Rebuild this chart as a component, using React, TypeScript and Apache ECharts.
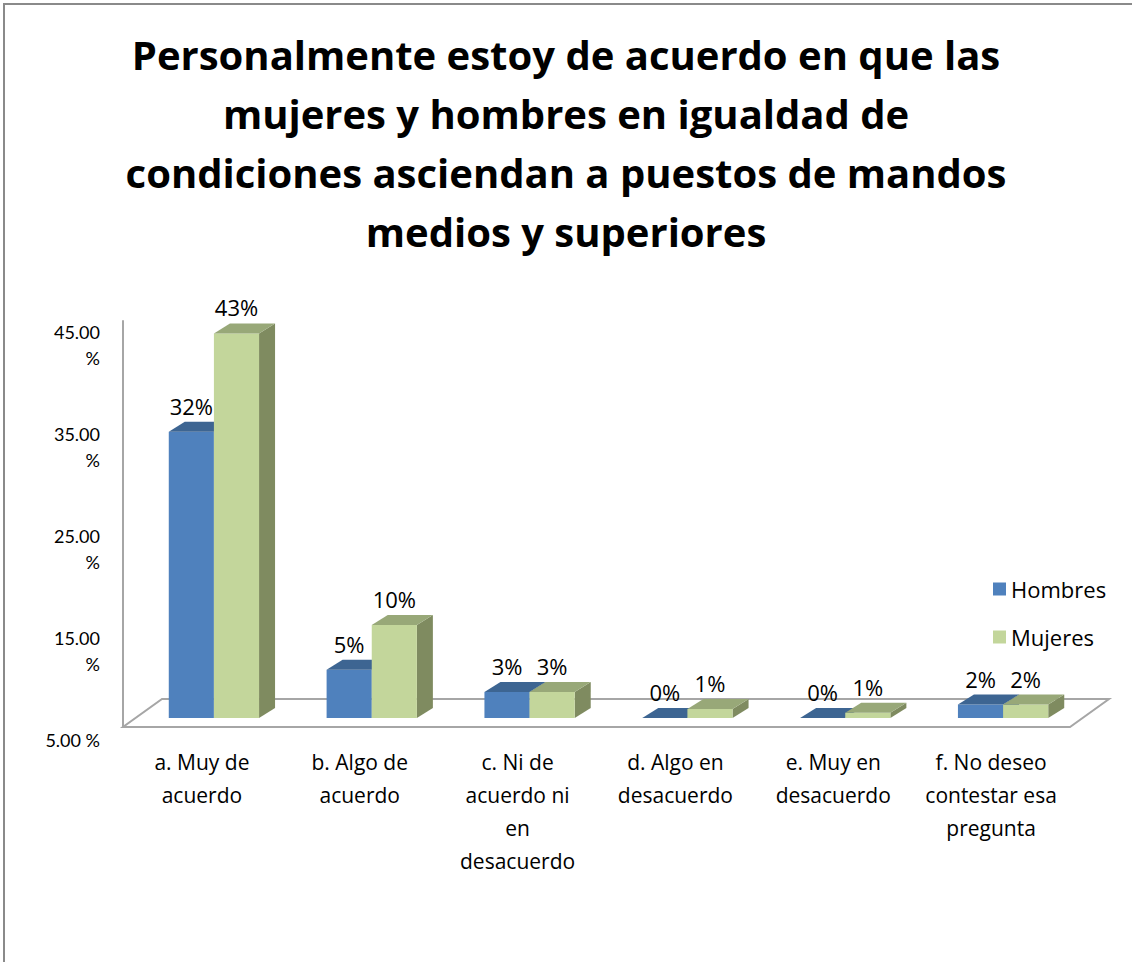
import React, { useEffect, useRef } from "react";
import * as echarts from "echarts";

const titleLines = [
  "Personalmente estoy de acuerdo en que las",
  "mujeres y hombres en igualdad de",
  "condiciones asciendan a puestos de mandos",
  "medios y superiores",
];
const categories = [
  "a. Muy de\nacuerdo",
  "b. Algo de\nacuerdo",
  "c. Ni de\nacuerdo ni\nen\ndesacuerdo",
  "d. Algo en\ndesacuerdo",
  "e. Muy en\ndesacuerdo",
  "f. No deseo\ncontestar esa\npregunta",
];
const seriesNames = ["Hombres", "Mujeres"];
const hombres = [32.0, 5.4, 2.9, 0.0, 0.0, 1.5];
const mujeres = [43.0, 10.4, 2.9, 1.0, 0.6, 1.5];
const tickMin = 5;
const tickMax = 45;
const tickStep = 10;

const palette = [
  { front: "#4F81BD", top: "#3D6592", side: "#385D8A" },
  { front: "#C3D69B", top: "#98A878", side: "#7F8B60" },
];

const FONT = "Open Sans";
const AXIS_FONT = "Lato";

function makeBarRender(s: number) {
  return (params: any, api: any) => {
    const idx = api.value(0);
    const v = api.value(1);
    const base = api.coord([idx, 0]);
    const top = api.coord([idx, v]);
    const band = api.size([1, 0])[0];
    const bw = band * 0.286;
    const shiftX = band * 0.076;
    const shiftY = -9;
    const dx = 16;
    const dy = -10;
    const x0 = base[0] + shiftX + (s === 0 ? -bw : 0);
    const x1 = x0 + bw;
    const yb = base[1] + shiftY;
    const yt = top[1] + shiftY;
    const c = palette[s];
    return {
      type: "group",
      children: [
        {
          type: "polygon",
          shape: { points: [[x1, yt], [x1 + dx, yt + dy], [x1 + dx, yb + dy], [x1, yb]] },
          style: { fill: c.side },
        },
        {
          type: "rect",
          shape: { x: x0, y: yt, width: bw, height: yb - yt },
          style: { fill: c.front },
        },
        {
          type: "polygon",
          shape: { points: [[x0, yt], [x1, yt], [x1 + dx, yt + dy], [x0 + dx, yt + dy]] },
          style: { fill: c.top },
        },
        {
          type: "text",
          z2: 10,
          style: {
            text: Math.round(v) + "%",
            x: x0 + bw / 2,
            y: yt - 26,
            align: "center",
            verticalAlign: "middle",
            fontSize: 22,
            fontFamily: FONT,
            fill: "#000",
          },
        },
      ],
    };
  };
}

export default function App() {
  const ref = useRef<HTMLDivElement>(null);
  useEffect(() => {
    document.body.style.margin = "0";
    const chart = echarts.init(ref.current!, null, { renderer: "svg" });
    const option: any = {
      animation: false,
      backgroundColor: "#fff",
      textStyle: { fontFamily: FONT },
      title: {
        text: titleLines.join("\n"),
        left: "center",
        top: 20,
        textStyle: { fontSize: 40, fontWeight: "bold", lineHeight: 59, color: "#000", fontFamily: FONT },
      },
      legend: {
        data: seriesNames,
        orient: "vertical",
        left: 988,
        top: 573,
        itemWidth: 13,
        itemHeight: 13,
        itemGap: 26,
        icon: "rect",
        textStyle: { fontSize: 22, lineHeight: 22, color: "#000", fontFamily: FONT },
      },
      graphic: [
        {
          type: "rect",
          shape: { x: 4, y: 4, width: 1300, height: 1100 },
          style: { fill: "none", stroke: "#8a8a8a", lineWidth: 2 },
          silent: true,
        },
      ],
      grid: [
        { left: 123, right: 62, top: 321, bottom: 235 },
        { left: 110, width: 10, top: 319, bottom: 235 },
      ],
      xAxis: [
        {
          type: "category",
          gridIndex: 0,
          data: categories,
          axisLine: { show: false },
          axisTick: { show: false },
          axisLabel: { interval: 0, fontSize: 21, lineHeight: 33, margin: 18, color: "#000", fontFamily: FONT },
        },
        { type: "value", gridIndex: 1, show: false },
      ],
      yAxis: [
        {
          type: "value",
          gridIndex: 0,
          min: 0,
          max: 45.4,
          axisLine: { show: true, lineStyle: { color: "#a6a6a6", width: 2 } },
          axisTick: { show: false },
          axisLabel: { show: false },
          splitLine: { show: false },
        },
        {
          type: "value",
          gridIndex: 1,
          min: tickMin,
          max: tickMax,
          interval: tickStep,
          axisLine: { show: false },
          axisTick: { show: false },
          splitLine: { show: false },
          axisLabel: {
            fontSize: 18,
            lineHeight: 26,
            verticalAlign: "top",
            align: "right",
            margin: 10,
            color: "#000",
            fontFamily: AXIS_FONT,
            formatter: (v: number) => (v === tickMin ? v.toFixed(2) + " %" : v.toFixed(2) + "\n%"),
          },
        },
      ],
      series: [
        {
          type: "custom",
          xAxisIndex: 0,
          yAxisIndex: 0,
          silent: true,
          clip: false,
          data: [[0, 0]],
          renderItem: (params: any) => {
            const cs = params.coordSys;
            const fx0 = cs.x;
            const fx1 = cs.x + cs.width;
            const fy = cs.y + cs.height;
            const bdx = 39;
            const bdy = -28;
            return {
              type: "polygon",
              shape: { points: [[fx0, fy], [fx1, fy], [fx1 + bdx, fy + bdy], [fx0 + bdx, fy + bdy]] },
              style: { fill: "none", stroke: "#a6a6a6", lineWidth: 2 },
            };
          },
        },
        {
          name: seriesNames[0],
          type: "custom",
          xAxisIndex: 0,
          yAxisIndex: 0,
          clip: false,
          itemStyle: { color: palette[0].front },
          data: hombres.map((v, i) => [i, v]),
          renderItem: makeBarRender(0),
        },
        {
          name: seriesNames[1],
          type: "custom",
          xAxisIndex: 0,
          yAxisIndex: 0,
          clip: false,
          itemStyle: { color: palette[1].front },
          data: mujeres.map((v, i) => [i, v]),
          renderItem: makeBarRender(1),
        },
      ],
    };
    chart.setOption(option);
    return () => chart.dispose();
  }, []);
  return <div ref={ref} style={{ width: 1132, height: 962 }} />;
}
